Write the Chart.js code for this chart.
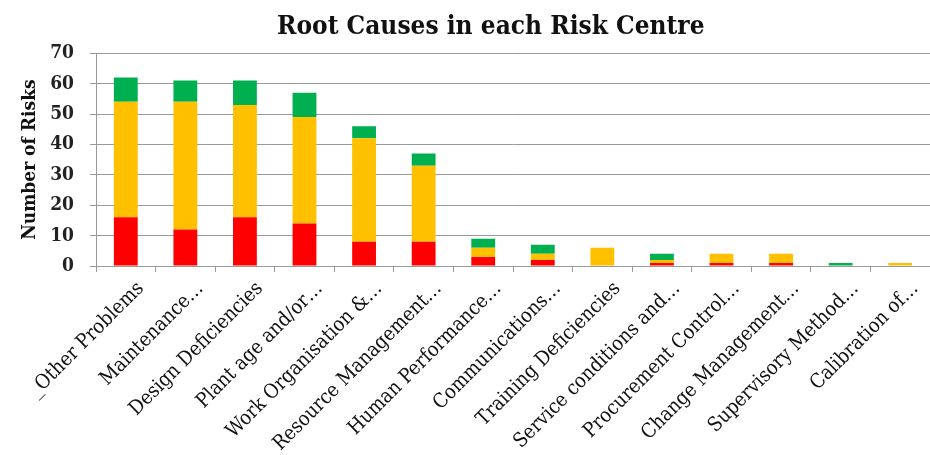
<!DOCTYPE html>
<html>
<head>
<meta charset="utf-8">
<script src="https://cdn.jsdelivr.net/npm/chart.js@4/dist/chart.umd.min.js"></script>
<style>
  html, body { margin: 0; padding: 0; background: #fff; }
  #wrap { width: 930px; height: 455px; }
</style>
</head>
<body>
<div id="wrap"><canvas id="c" width="930" height="455"></canvas></div>
<script>
const categories = [
  "_Other Problems", "Maintenance\u2026", "Design Deficiencies", "Plant age and/or\u2026",
  "Work Organisation &\u2026", "Resource Management\u2026", "Human Performance\u2026",
  "Communications\u2026", "Training Deficiencies", "Service conditions and\u2026",
  "Procurement Control\u2026", "Change Management\u2026", "Supervisory Method\u2026", "Calibration of\u2026"
];
const redValues    = [16, 12, 16, 14, 8, 8, 3, 2, 0, 1, 1, 1, 0, 0];
const yellowValues = [38, 42, 37, 35, 34, 25, 3, 2, 6, 1, 3, 3, 0, 1];
const greenValues  = [8, 7, 8, 8, 4, 4, 3, 3, 0, 2, 0, 0, 1, 0];
const yTicks = [0, 10, 20, 30, 40, 50, 60, 70];
const chartTitle = '    Root Causes in each Risk Centre';

const serif = "'DejaVu Serif Condensed', 'DejaVu Serif', serif";
const gridColor = '#9a9a9a';

new Chart(document.getElementById('c'), {
  type: 'bar',
  data: {
    labels: categories,
    datasets: [
      { label: 'Red', data: redValues, backgroundColor: '#FF0000' },
      { label: 'Amber', data: yellowValues, backgroundColor: '#FFC000' },
      { label: 'Green', data: greenValues, backgroundColor: '#00B050' }
    ]
  },
  options: {
    responsive: false,
    animation: false,
    devicePixelRatio: 1,
    layout: { padding: { left: 19, right: 0, top: 12, bottom: 0 } },
    datasets: { bar: { barPercentage: 0.4, categoryPercentage: 1.0 } },
    plugins: {
      legend: { display: false },
      tooltip: { enabled: false },
      title: {
        display: true,
        text: chartTitle,
        color: '#111',
        font: { family: serif, size: 26, weight: 'bold' },
        padding: { top: 0, bottom: 10 }
      }
    },
    scales: {
      x: {
        stacked: true,
        offset: true,
        grid: { display: true, drawOnChartArea: false, drawTicks: true, tickLength: 6, color: gridColor, offset: true },
        border: { display: true, color: gridColor, width: 1 },
        ticks: {
          autoSkip: false, maxRotation: 45, minRotation: 45, padding: 5, labelOffset: 15,
          color: '#111',
          font: { family: serif, size: 20 }
        },
        afterFit: s => { s.height = 189; }
      },
      y: {
        stacked: true,
        min: 0, max: 70,
        afterBuildTicks: s => { s.ticks = yTicks.map(v => ({ value: v })); },
        grid: { color: gridColor, lineWidth: 1, tickLength: 6 },
        border: { display: true, color: gridColor, width: 1 },
        ticks: {
          stepSize: 10, padding: 16, color: '#222',
          font: { family: serif, size: 19, weight: 'bold' }
        },
        title: {
          display: true, text: 'Number of Risks', color: '#111',
          font: { family: serif, size: 19, weight: 'bold' },
          padding: { top: 0, bottom: 0 }
        },
        afterFit: s => { s.width = 77; }
      }
    }
  }
});
</script>
</body>
</html>
